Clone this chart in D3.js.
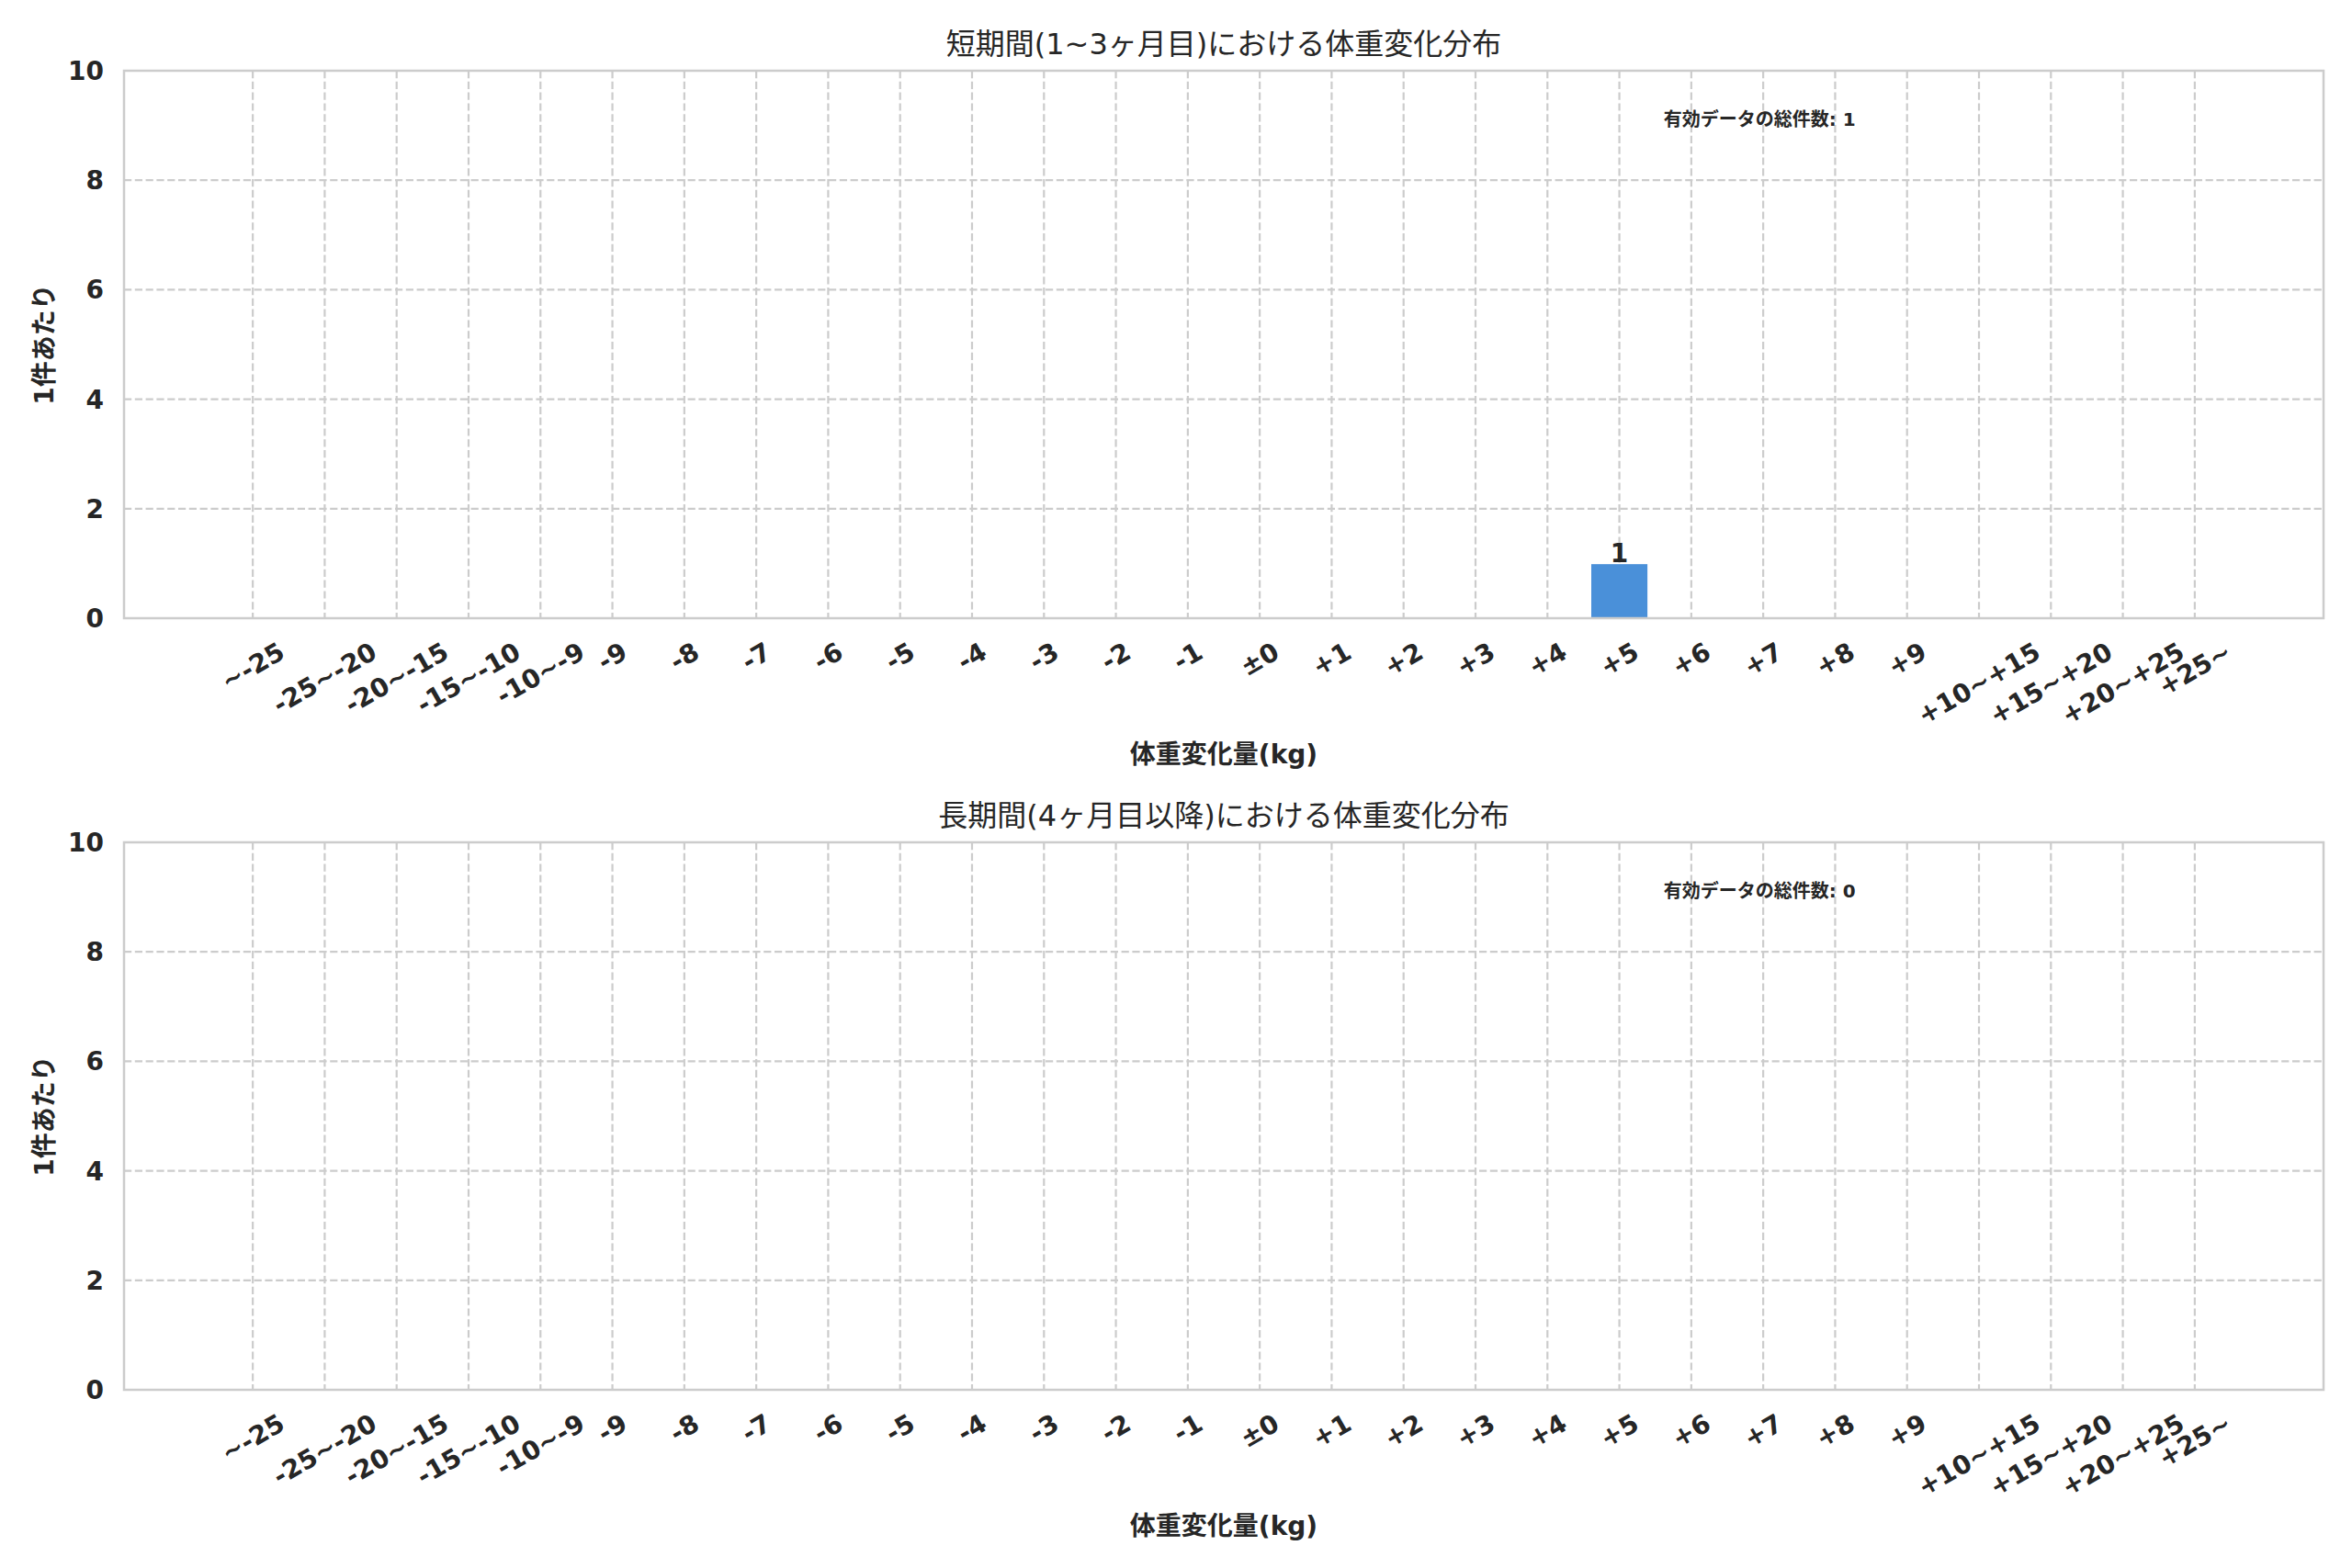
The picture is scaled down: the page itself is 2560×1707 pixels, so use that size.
<!DOCTYPE html>
<html>
<head>
<meta charset="utf-8">
<script src="https://cdn.jsdelivr.net/npm/d3@7"></script>
<style>
  body { margin: 0; background: #fff; }
  text { font-family: "DejaVu Sans", "Noto Sans CJK JP", sans-serif; fill: #262626; }
</style>
</head>
<body>
<div id="chart"></div>
<script>
// Weight change bins (kg)
const categories = [
    "~-25", "-25~-20", "-20~-15", "-15~-10", "-10~-9",
    "-9", "-8", "-7", "-6", "-5", "-4", "-3", "-2", "-1",
    "±0", "+1", "+2", "+3", "+4", "+5", "+6", "+7", "+8", "+9",
    "+10~+15", "+15~+20", "+20~+25", "+25~"
];

// counts per bin
const shortTermCounts = [0, 0, 0, 0, 0, 0, 0, 0, 0, 0, 0, 0, 0, 0, 0, 0, 0, 0, 0, 1, 0, 0, 0, 0, 0, 0, 0, 0];
const longTermCounts = [0, 0, 0, 0, 0, 0, 0, 0, 0, 0, 0, 0, 0, 0, 0, 0, 0, 0, 0, 0, 0, 0, 0, 0, 0, 0, 0, 0];

const panelTitles = ["短期間(1~3ヶ月目)における体重変化分布", "長期間(4ヶ月目以降)における体重変化分布"];
const totalLabel = "有効データの総件数";
const xAxisLabel = "体重変化量(kg)";
const yAxisLabel = "1件あたり";
const yTicks = [0, 2, 4, 6, 8, 10];

const width = 2560;
const height = 1707;
const margin = { left: 135, right: 31 };
const panelTops = [77, 917];
const panelHeight = 596;
const barWidth = 0.8;
const tickSize = 28;

const svg = d3.select("#chart")
    .append("svg")
    .attr("width", width)
    .attr("height", height);

// x domain = bar extent plus matplotlib-like 5% margin
const span = (categories.length - 1) + barWidth;
const pad = span * 0.05;
const xScale = d3.scaleLinear()
    .domain([-barWidth / 2 - pad, categories.length - 1 + barWidth / 2 + pad])
    .range([margin.left, width - margin.right]);

function drawPanel(top, counts, title) {
    const bottom = top + panelHeight;
    const yScale = d3.scaleLinear().domain([0, 10]).range([bottom, top]);
    const g = svg.append("g");

    // grid
    g.selectAll(".vgrid")
        .data(categories)
        .join("line")
        .attr("x1", (d, i) => xScale(i))
        .attr("x2", (d, i) => xScale(i))
        .attr("y1", top)
        .attr("y2", bottom)
        .attr("stroke", "#cccccc")
        .attr("stroke-width", 2.2)
        .attr("stroke-dasharray", "8.2,3.6");

    g.selectAll(".hgrid")
        .data(yTicks)
        .join("line")
        .attr("x1", margin.left)
        .attr("x2", width - margin.right)
        .attr("y1", (d) => yScale(d))
        .attr("y2", (d) => yScale(d))
        .attr("stroke", "#cccccc")
        .attr("stroke-width", 2.2)
        .attr("stroke-dasharray", "8.2,3.6");

    // bars
    const bars = counts.map((c, i) => ({ i: i, c: c })).filter((d) => d.c > 0);
    g.selectAll(".bar")
        .data(bars)
        .join("rect")
        .attr("x", (d) => xScale(d.i - barWidth / 2))
        .attr("width", (d) => xScale(barWidth) - xScale(0))
        .attr("y", (d) => yScale(d.c))
        .attr("height", (d) => yScale(0) - yScale(d.c))
        .attr("fill", "#4a90d9")
        .attr("stroke", "#ffffff")
        .attr("stroke-width", 1.5);

    g.selectAll(".barlabel")
        .data(bars)
        .join("text")
        .attr("x", (d) => xScale(d.i))
        .attr("y", (d) => yScale(d.c) - 1)
        .attr("text-anchor", "middle")
        .style("font-size", tickSize + "px")
        .style("font-weight", "bold")
        .text((d) => d.c);

    // frame
    g.append("rect")
        .attr("x", margin.left)
        .attr("y", top)
        .attr("width", width - margin.right - margin.left)
        .attr("height", panelHeight)
        .attr("fill", "none")
        .attr("stroke", "#cccccc")
        .attr("stroke-width", 2.5);

    // y tick labels
    g.selectAll(".ytick")
        .data(yTicks)
        .join("text")
        .attr("x", margin.left - 22)
        .attr("y", (d) => yScale(d))
        .attr("dy", "0.36em")
        .attr("text-anchor", "end")
        .style("font-size", tickSize + "px")
        .style("font-weight", "bold")
        .text((d) => d);

    // x tick labels, rotated 30deg, bbox centred under tick
    const xt = g.selectAll(".xtick")
        .data(categories)
        .join("text")
        .attr("text-anchor", "middle")
        .attr("dominant-baseline", "central")
        .style("font-size", tickSize + "px")
        .style("font-weight", "bold")
        .text((d) => d);
    xt.each(function (d, i) {
        const w = this.getComputedTextLength();
        const h = tickSize * 1.164;
        const cy = bottom + 20 + (w * 0.5 + h * 0.866) / 2;
        d3.select(this).attr("transform", `translate(${xScale(i)},${cy}) rotate(-30)`);
    });

    // title and axis labels
    const cx = (margin.left + width - margin.right) / 2;
    g.append("text")
        .attr("x", cx)
        .attr("y", top - 18)
        .attr("text-anchor", "middle")
        .style("font-size", "32px")
        .text(title);

    g.append("text")
        .attr("x", cx)
        .attr("y", bottom + 158)
        .attr("text-anchor", "middle")
        .style("font-size", tickSize + "px")
        .style("font-weight", "bold")
        .text(xAxisLabel);

    g.append("text")
        .attr("transform", `translate(48,${top + panelHeight / 2}) rotate(-90)`)
        .attr("text-anchor", "middle")
        .attr("dominant-baseline", "central")
        .style("font-size", tickSize + "px")
        .style("font-weight", "bold")
        .text(yAxisLabel);

    // total count annotation
    g.append("text")
        .attr("x", xScale.range()[0] + 0.70 * (xScale.range()[1] - xScale.range()[0]))
        .attr("y", bottom - 0.90 * panelHeight)
        .style("font-size", "20px")
        .style("font-weight", "bold")
        .text(`${totalLabel}: ${d3.sum(counts)}`);
}

drawPanel(panelTops[0], shortTermCounts, panelTitles[0]);
drawPanel(panelTops[1], longTermCounts, panelTitles[1]);
</script>
</body>
</html>
